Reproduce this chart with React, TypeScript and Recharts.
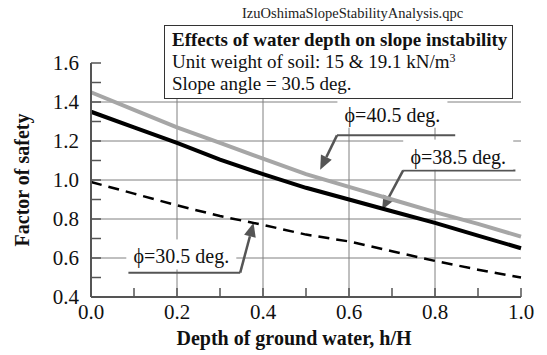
import React from 'react';
import {
	LineChart,
	Line,
	XAxis,
	YAxis,
	ReferenceLine,
	ReferenceDot,
	Label,
} from 'recharts';

// depth of ground water h/H and factor of safety for each friction angle
const depth = [0, 0.1, 0.2, 0.3, 0.4, 0.5, 0.6, 0.7, 0.8, 0.9, 1.0];
const phi405 = [1.45, 1.36, 1.27, 1.19, 1.11, 1.03, 0.965, 0.9, 0.835, 0.775, 0.71];
const phi385 = [1.35, 1.27, 1.19, 1.105, 1.03, 0.96, 0.9, 0.84, 0.78, 0.715, 0.65];
const phi305 = [0.99, 0.93, 0.87, 0.815, 0.77, 0.72, 0.685, 0.635, 0.585, 0.54, 0.5];

const xTicks = [0, 0.1, 0.2, 0.3, 0.4, 0.5, 0.6, 0.7, 0.8, 0.9, 1.0];
const yTicks = [0.4, 0.5, 0.6, 0.7, 0.8, 0.9, 1.0, 1.1, 1.2, 1.3, 1.4, 1.5, 1.6];
const xGrid = [0.2, 0.4, 0.6, 0.8];
const yGrid = [0.6, 0.8, 1.0, 1.2, 1.4];

const data = depth.map((d, i) => ({
	depth: d,
	phi405: phi405[i],
	phi385: phi385[i],
	phi305: phi305[i],
}));

// callouts: text centre, underline, arrow start -> tip (data coords)
const callouts = [
	{
		text: 'ϕ=40.5 deg.',
		textAt: { x: 0.701, y: 1.335 },
		underline: [0.572, 0.847],
		lineY: 1.229,
		tip: { x: 0.533, y: 1.053 },
		from: 0.572,
	},
	{
		text: 'ϕ=38.5 deg.',
		textAt: { x: 0.854, y: 1.12 },
		underline: [0.726, 0.987],
		lineY: 1.049,
		tip: { x: 0.677, y: 0.848 },
		from: 0.726,
	},
	{
		text: 'ϕ=30.5 deg.',
		textAt: { x: 0.21, y: 0.608 },
		underline: [0.087, 0.347],
		lineY: 0.525,
		tip: { x: 0.378, y: 0.781 },
		from: 0.347,
	},
];

const SERIF = 'Liberation Serif, serif';
const FRAME = '#555';
const GRID = '#808080';
const ARROW = '#555';

const isMajor = (v: number) => Math.round(v * 10) % 2 === 0;

const leftTick = (p: any) => {
	const v = p.payload.value;
	const ax = p.x + 12;
	return (
		<g>
			<line x1={ax} x2={ax + 10} y1={p.y} y2={p.y} stroke={FRAME} strokeWidth={1.5} />
			{isMajor(v) && (
				<text x={p.x} y={p.y} dy='0.34em' textAnchor='end' fill='#111' style={{ fontSize: 21, fontFamily: SERIF }}>
					{v.toFixed(1)}
				</text>
			)}
		</g>
	);
};

const rightTick = (p: any) => (
	<line x1={p.x} x2={p.x - 8} y1={p.y} y2={p.y} stroke={FRAME} strokeWidth={1.5} />
);

const bottomTick = (p: any) => {
	const v = p.payload.value;
	const ay = p.y - 7;
	return (
		<g>
			<line x1={p.x} x2={p.x} y1={ay} y2={ay - 9} stroke={FRAME} strokeWidth={1.5} />
			{isMajor(v) && (
				<text x={p.x} y={p.y} dy='0.71em' textAnchor='middle' fill='#111' style={{ fontSize: 21, fontFamily: SERIF }}>
					{v.toFixed(1)}
				</text>
			)}
		</g>
	);
};

const topTick = (p: any) => (
	<line x1={p.x} x2={p.x} y1={p.y} y2={p.y + 9} stroke={FRAME} strokeWidth={1.5} />
);

const arrowShape = (p: any) => {
	const { x1, y1, x2, y2 } = p;
	const a = Math.atan2(y2 - y1, x2 - x1);
	const len = 14;
	const half = 6;
	const bx = x2 - len * Math.cos(a);
	const by = y2 - len * Math.sin(a);
	const nx = -Math.sin(a) * half;
	const ny = Math.cos(a) * half;
	return (
		<g>
			<line x1={x1} y1={y1} x2={bx} y2={by} stroke={ARROW} strokeWidth={2.5} />
			<polygon points={`${x2},${y2} ${bx + nx},${by + ny} ${bx - nx},${by - ny}`} fill={ARROW} />
		</g>
	);
};

const calloutText = (text: string) => (p: any) => (
	<g>
		<rect x={p.cx - 55} y={p.cy - 17} width={110} height={30} fill='#fff' />
		<text x={p.cx} y={p.cy} dy='0.35em' textAnchor='middle' fill='#111' style={{ fontSize: 20, fontFamily: SERIF }}>
			{text}
		</text>
	</g>
);

export default function App() {
	return (
		<div style={{ position: 'relative', width: 547, height: 355, background: '#fff', fontFamily: SERIF }}>
			<style>{'body{margin:0}'}</style>
			<LineChart
				width={547}
				height={355}
				data={data}
				margin={{ top: 63, right: 26, bottom: 28, left: 31 }}
			>
				<XAxis
					dataKey='depth'
					type='number'
					domain={[0, 1]}
					ticks={xTicks}
					interval={0}
					tickSize={0}
					tickMargin={7}
					tickLine={false}
					height={30}
					tick={bottomTick}
					axisLine={{ stroke: FRAME, strokeWidth: 2 }}
				>
					<Label
						value='Depth of ground water, h/H'
						position='bottom'
						offset={4}
						dx={-12}
						style={{ fontSize: 20, fontWeight: 'bold', fontFamily: SERIF, fill: '#111' }}
					/>
				</XAxis>
				<XAxis
					xAxisId='top'
					orientation='top'
					type='number'
					dataKey='depth'
					domain={[0, 1]}
					ticks={xTicks}
					interval={0}
					tickSize={0}
					tickMargin={0}
					tickLine={false}
					height={0}
					tick={topTick}
					axisLine={{ stroke: FRAME, strokeWidth: 2 }}
				/>
				<YAxis
					type='number'
					domain={[0.4, 1.6]}
					ticks={yTicks}
					interval={0}
					tickSize={0}
					tickMargin={12}
					tickLine={false}
					width={60}
					tick={leftTick}
					axisLine={{ stroke: FRAME, strokeWidth: 2 }}
				>
					<Label
						value='Factor of safety'
						angle={-90}
						position='insideLeft'
						offset={-9}
						style={{ textAnchor: 'middle', fontSize: 20, fontWeight: 'bold', fontFamily: SERIF, fill: '#111' }}
					/>
				</YAxis>
				<YAxis
					yAxisId='right'
					orientation='right'
					type='number'
					domain={[0.4, 1.6]}
					ticks={yTicks}
					interval={0}
					tickSize={0}
					tickMargin={0}
					tickLine={false}
					width={0}
					tick={rightTick}
					axisLine={{ stroke: FRAME, strokeWidth: 2 }}
				/>

				{xGrid.map(v => (
					<ReferenceLine key={'gx' + v} x={v} stroke={GRID} strokeWidth={1} />
				))}
				{yGrid.map(v => (
					<ReferenceLine key={'gy' + v} y={v} stroke={GRID} strokeWidth={1} />
				))}

				{callouts.map(c => (
					<ReferenceDot
						key={'t' + c.text}
						x={c.textAt.x}
						y={c.textAt.y}
						shape={calloutText(c.text)}
					/>
				))}
				{callouts.map(c => (
					<ReferenceLine
						key={'u' + c.text}
						segment={[
							{ x: c.underline[0], y: c.lineY },
							{ x: c.underline[1], y: c.lineY },
						]}
						stroke={ARROW}
						strokeWidth={2}
					/>
				))}
				{callouts.map(c => (
					<ReferenceLine
						key={'a' + c.text}
						segment={[
							{ x: c.from, y: c.lineY },
							{ x: c.tip.x, y: c.tip.y },
						]}
						shape={arrowShape}
					/>
				))}

				<Line
					dataKey='phi405'
					type='linear'
					stroke='#a6a6a6'
					strokeWidth={4}
					dot={false}
					isAnimationActive={false}
				/>
				<Line
					dataKey='phi385'
					type='linear'
					stroke='#000'
					strokeWidth={4}
					dot={false}
					isAnimationActive={false}
				/>
				<Line
					dataKey='phi305'
					type='linear'
					stroke='#000'
					strokeWidth={2.5}
					strokeDasharray='11 7'
					dot={false}
					isAnimationActive={false}
				/>
			</LineChart>

			<div
				style={{
					position: 'absolute',
					left: 242,
					top: 3,
					fontSize: 14.5,
					color: '#222',
					whiteSpace: 'nowrap',
					lineHeight: '20px',
				}}
			>
				IzuOshimaSlopeStabilityAnalysis.qpc
			</div>
			<div
				style={{
					position: 'absolute',
					left: 164,
					top: 25,
					width: 349,
					height: 74,
					border: '1.5px solid #333',
					background: '#fff',
					padding: '3px 0 0 7px',
					boxSizing: 'border-box',
					color: '#111',
					fontSize: 19,
					lineHeight: '22px',
					whiteSpace: 'nowrap',
				}}
			>
				<div style={{ fontWeight: 'bold' }}>Effects of water depth on slope instability</div>
				<div>
					Unit weight of soil: 15 &amp; 19.1 kN/m<sup style={{ fontSize: 12, verticalAlign: 'top', lineHeight: '14px' }}>3</sup>
				</div>
				<div>Slope angle = 30.5 deg.</div>
			</div>
		</div>
	);
}
